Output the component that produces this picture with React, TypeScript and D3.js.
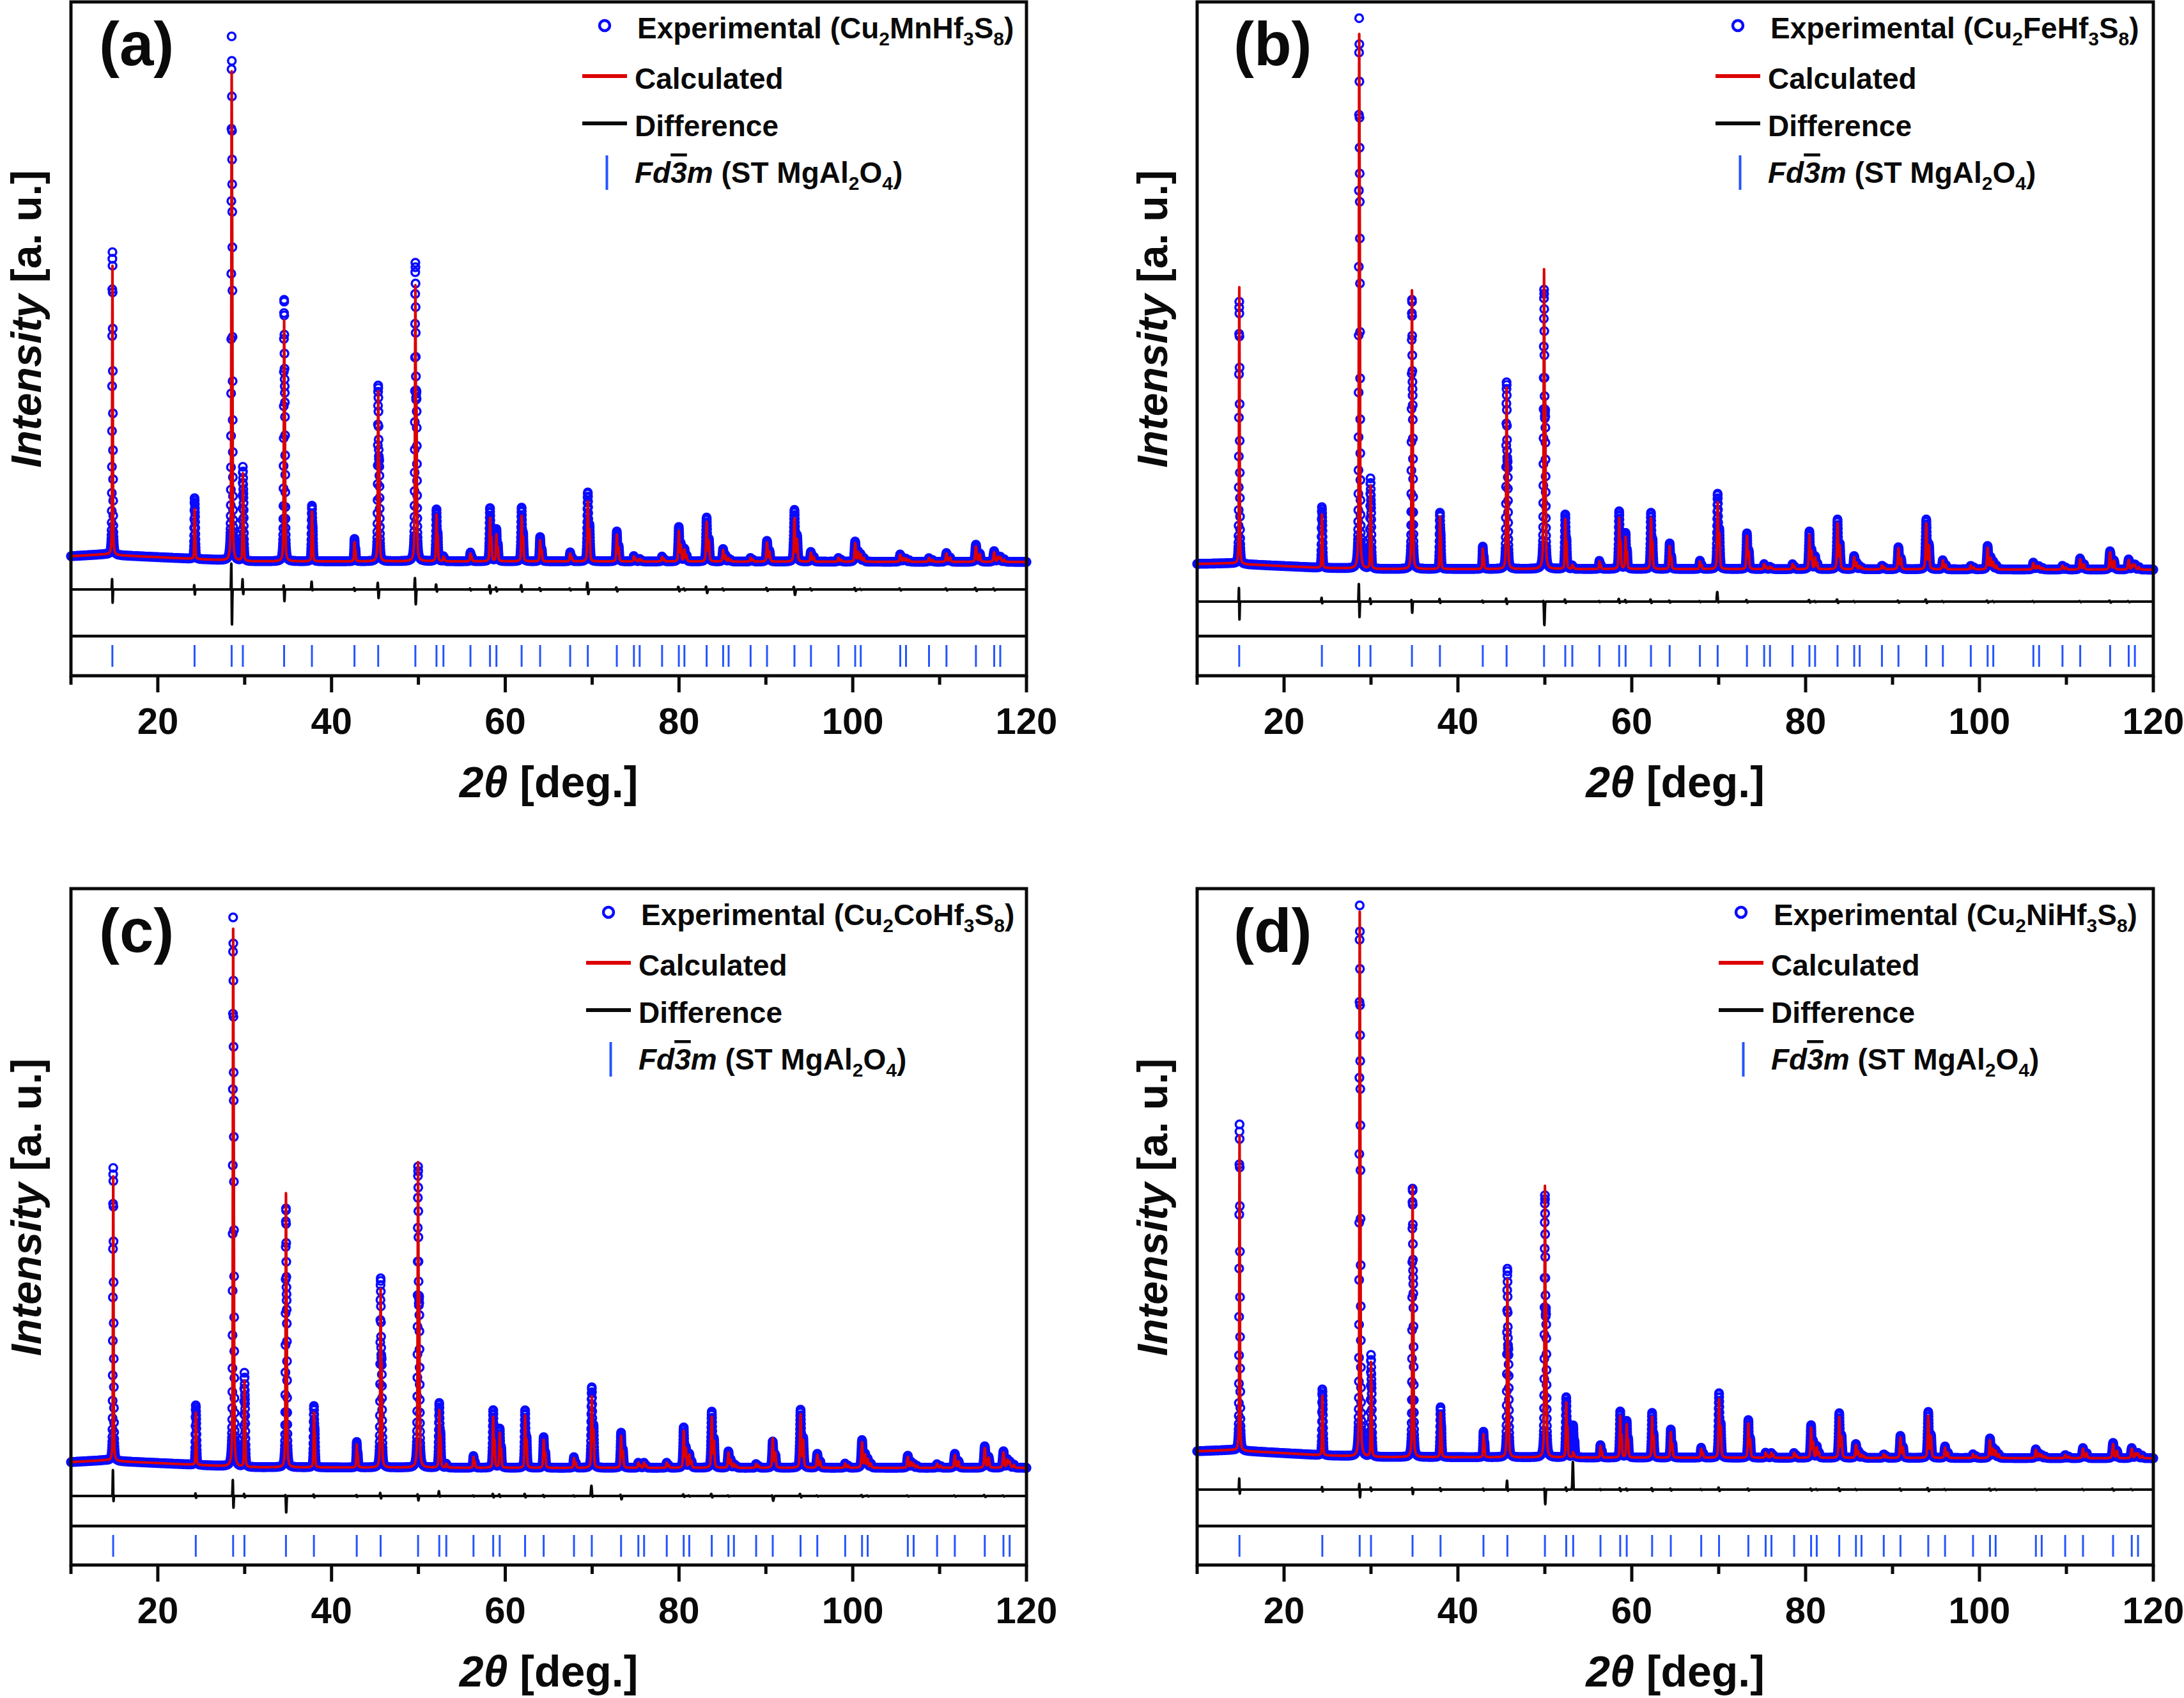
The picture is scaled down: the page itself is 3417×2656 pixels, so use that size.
import React, { useMemo } from 'react';
import * as d3 from 'd3';

// ---------------- data ----------------
const X_MAJOR = [20, 40, 60, 80, 100, 120];
const X_MINOR = [10, 30, 50, 70, 90, 110];
const BG_X = [10, 14, 16, 24, 30, 60, 120];

const PANEL_TAGS = ['(a)', '(b)', '(c)', '(d)'];
const METALS = ['Mn', 'Fe', 'Co', 'Ni'];

// Bragg reflection positions (2θ, deg) shown as tick marks
const ticksA = [14.77, 24.23, 28.5, 29.79, 34.54, 37.74, 42.64, 45.37, 49.65, 52.08, 52.88, 55.99, 58.24, 58.98, 61.88, 64.01, 67.47, 69.5, 72.84, 74.81, 75.47, 78.05, 79.98, 80.62, 83.18, 85.08, 85.71, 88.24, 90.13, 93.29, 95.19, 98.36, 100.28, 100.92, 105.47, 106.13, 108.78, 110.79, 114.18, 116.28, 116.98];
const ticksB = [14.84, 24.35, 28.64, 29.94, 34.71, 37.93, 42.86, 45.6, 49.91, 52.35, 53.16, 56.28, 58.55, 59.29, 62.21, 64.36, 67.84, 69.88, 73.25, 75.23, 75.9, 78.5, 80.44, 81.09, 83.67, 85.59, 86.22, 88.78, 90.68, 93.88, 95.79, 99.0, 100.94, 101.59, 106.2, 106.86, 109.55, 111.59, 115.03, 117.17, 117.88];
const ticksC = [14.86, 24.37, 28.67, 29.97, 34.75, 37.97, 42.9, 45.65, 49.96, 52.4, 53.21, 56.34, 58.61, 59.36, 62.28, 64.42, 67.91, 69.96, 73.33, 75.32, 75.98, 78.59, 80.54, 81.18, 83.77, 85.69, 86.32, 88.88, 90.79, 93.99, 95.92, 99.13, 101.07, 101.72, 106.34, 107.01, 109.71, 111.75, 115.2, 117.35, 118.06];
const ticksD = [14.87, 24.4, 28.7, 30.0, 34.78, 38.0, 42.94, 45.69, 50.01, 52.46, 53.26, 56.4, 58.67, 59.42, 62.34, 64.49, 67.99, 70.04, 73.41, 75.4, 76.07, 78.68, 80.63, 81.28, 83.87, 85.79, 86.43, 88.99, 90.91, 94.11, 96.04, 99.26, 101.21, 101.86, 106.49, 107.16, 109.86, 111.91, 115.37, 117.52, 118.24];

// peak heights above background (arbitrary units), experimental and calculated
const expA = [463, 95, 820, 147, 409, 87, 35, 275, 467, 81, 8, 14, 83, 50, 84, 38, 14, 108, 47, 9, 4, 8, 54, 20, 69, 20, 5, 6, 33, 81, 16, 6, 32, 12, 12, 5, 6, 14, 27, 17, 8];
const calcA = [442, 77, 765, 137, 377, 78, 30, 266, 432, 73, 7, 12, 68, 42, 71, 33, 12, 94, 42, 8, 4, 7, 48, 18, 62, 18, 5, 6, 30, 68, 14, 6, 29, 11, 11, 5, 6, 13, 24, 15, 7];
const expB = [401, 95, 861, 141, 421, 88, 35, 292, 437, 85, 6, 13, 90, 56, 88, 40, 13, 118, 56, 8, 4, 8, 59, 20, 78, 21, 5, 6, 35, 78, 15, 6, 37, 12, 11, 5, 6, 18, 29, 16, 8];
const calcB = [423, 83, 836, 130, 436, 82, 32, 284, 469, 78, 6, 12, 80, 50, 80, 36, 12, 105, 52, 8, 4, 8, 54, 18, 72, 19, 5, 6, 33, 72, 14, 6, 34, 11, 10, 5, 6, 16, 27, 15, 7];
const expC = [448, 93, 859, 147, 405, 96, 40, 296, 471, 101, 6, 19, 90, 61, 90, 48, 17, 126, 55, 8, 8, 8, 63, 22, 88, 26, 6, 6, 42, 91, 22, 7, 44, 14, 19, 6, 6, 22, 34, 26, 10];
const calcC = [435, 81, 841, 135, 429, 86, 36, 280, 478, 90, 6, 17, 80, 55, 82, 44, 15, 112, 50, 8, 8, 8, 58, 20, 80, 24, 6, 6, 46, 84, 20, 7, 40, 13, 17, 6, 6, 20, 31, 24, 9];
const expD = [499, 103, 862, 159, 420, 78, 40, 295, 410, 94, 50, 20, 72, 57, 70, 44, 16, 101, 59, 8, 8, 8, 51, 18, 70, 22, 5, 6, 35, 72, 18, 6, 31, 12, 14, 5, 5, 16, 24, 16, 8];
const calcD = [482, 92, 852, 148, 424, 70, 36, 279, 425, 86, 8, 18, 65, 52, 64, 40, 14, 92, 54, 8, 8, 8, 47, 16, 64, 20, 5, 6, 32, 66, 16, 6, 28, 11, 13, 5, 5, 15, 22, 15, 7];

// residual (difference) excursions above / below the difference baseline
const diffUpA = [22, 9, 55, 19, 10, 13, 3, 14, 24, 9, 0, 2, 8, 4, 8, 3, 2, 13, 4, 0, 0, 0, 5, 2, 6, 2, 0, 0, 3, 6, 2, 0, 3, 1, 2, 0, 0, 2, 3, 2, 0];
const diffDnA = [26, 10, 68, 11, 21, 3, 3, 17, 29, 5, 0, 2, 8, 4, 5, 3, 2, 10, 4, 0, 0, 0, 4, 2, 7, 2, 0, 0, 3, 10, 2, 0, 3, 1, 2, 0, 0, 2, 3, 2, 0];
const diffUpB = [29, 7, 35, 6, 5, 5, 2, 6, 4, 4, 0, 1, 5, 3, 4, 2, 1, 16, 3, 0, 0, 0, 3, 1, 4, 1, 0, 0, 2, 4, 1, 0, 2, 1, 1, 0, 0, 1, 2, 1, 0];
const diffDnB = [35, 4, 32, 5, 19, 3, 2, 5, 38, 3, 0, 1, 3, 2, 3, 2, 1, 3, 2, 0, 0, 0, 2, 1, 3, 1, 0, 0, 2, 3, 1, 0, 2, 1, 1, 0, 0, 1, 2, 1, 0];
const diffUpC = [45, 5, 31, 4, 4, 3, 2, 6, 4, 8, 0, 1, 4, 3, 4, 2, 1, 17, 3, 0, 0, 0, 3, 1, 4, 1, 0, 0, 2, 4, 1, 0, 2, 1, 1, 0, 0, 1, 2, 1, 0];
const diffDnC = [15, 4, 25, 3, 27, 3, 2, 5, 8, 2, 0, 1, 3, 2, 3, 2, 1, 3, 6, 0, 0, 0, 2, 1, 3, 1, 0, 0, 8, 3, 1, 0, 2, 1, 1, 0, 0, 1, 2, 1, 0];
const diffUpD = [20, 5, 12, 4, 4, 3, 2, 15, 4, 4, 44, 1, 3, 2, 3, 2, 1, 4, 2, 0, 0, 0, 2, 1, 3, 1, 0, 0, 2, 3, 1, 0, 2, 1, 1, 0, 0, 1, 2, 1, 0];
const diffDnD = [10, 4, 15, 3, 8, 3, 2, 4, 24, 3, 2, 1, 3, 2, 3, 2, 1, 3, 2, 0, 0, 0, 2, 1, 3, 1, 0, 0, 2, 3, 1, 0, 2, 1, 1, 0, 0, 1, 2, 1, 0];

// background levels at BG_X and difference-curve baselines
const bgA = [125, 128, 126, 121, 117, 117, 116];
const bgB = [113, 114, 112, 107, 105, 105, 104];
const bgC = [100, 103, 101, 96, 92, 91, 91];
const bgD = [117, 119, 117, 111, 108, 107, 106];
const diffBase = [73, 54, 47, 57];

// ---------------- layout / style ----------------
const W = 3417;
const H = 2656;
const FONT = "'Liberation Sans', Arial, Helvetica, sans-serif";
const BLUE = '#0a0aff';
const TICK_BLUE = '#2454ff';
const RED = '#dc0000';
const INK = '#0a0a0a';

const COLS = [
  { x0: 111, x1: 1606 },
  { x0: 1873, x1: 3369 },
];
const ROWS = [
  { top: 3, sep: 995, bot: 1057 },
  { top: 1390, sep: 2387, bot: 2448 },
];
const LEGEND_DX = [835, 846, 841, 851];

const STEP = 0.01;
const N = Math.round((120 - 10) / STEP) + 1;
const XS = d3.range(N).map((i) => 10 + i * STEP);

function pv(dx: number, w: number) {
  const t = (dx * dx) / (w * w);
  return 0.5 * Math.exp(-4 * Math.LN2 * t) + 0.5 / (1 + 4 * t);
}
function fwhm(p: number) {
  return 0.07 + 0.0011 * (p - 10);
}
function ka2Shift(p: number) {
  const th = ((p / 2) * Math.PI) / 180;
  return (2 * Math.tan(th) * 0.00248 * 180) / Math.PI;
}
function addPeaks(arr: Float64Array, pos: number[], hts: number[]) {
  for (let k = 0; k < pos.length; k++) {
    const p = pos[k];
    const h = hts[k];
    if (!h) continue;
    const w = fwhm(p);
    const d2 = ka2Shift(p);
    const norm = 1 + 0.5 * pv(d2, w);
    const i0 = Math.max(0, Math.floor((p - 3 - 10) / STEP));
    const i1 = Math.min(N - 1, Math.ceil((p + 3 + d2 - 10) / STEP));
    for (let i = i0; i <= i1; i++) {
      const dx = XS[i] - p;
      arr[i] += (h * (pv(dx, w) + 0.5 * pv(dx - d2, w))) / norm;
    }
  }
}
function addDiff(arr: Float64Array, pos: number[], up: number[], dn: number[]) {
  for (let k = 0; k < pos.length; k++) {
    const p = pos[k];
    const s = fwhm(p) * 0.55;
    const d = fwhm(p) * 0.3;
    const i0 = Math.max(0, Math.floor((p - 1 - 10) / STEP));
    const i1 = Math.min(N - 1, Math.ceil((p + 1 - 10) / STEP));
    for (let i = i0; i <= i1; i++) {
      const a = (XS[i] - p + d) / s;
      const b = (XS[i] - p - d) / s;
      arr[i] += up[k] * Math.exp(-a * a) - dn[k] * Math.exp(-b * b);
    }
  }
}

const PANELS = [
  { ticks: ticksA, exp: expA, calc: calcA, up: diffUpA, dn: diffDnA, bg: bgA },
  { ticks: ticksB, exp: expB, calc: calcB, up: diffUpB, dn: diffDnB, bg: bgB },
  { ticks: ticksC, exp: expC, calc: calcC, up: diffUpC, dn: diffDnC, bg: bgC },
  { ticks: ticksD, exp: expD, calc: calcD, up: diffUpD, dn: diffDnD, bg: bgD },
];

function Panel({ idx }: { idx: number }) {
  const col = COLS[idx % 2];
  const row = ROWS[Math.floor(idx / 2)];
  const data = PANELS[idx];
  const { x0, x1 } = col;
  const { top, sep, bot } = row;

  const x = d3.scaleLinear().domain([10, 120]).range([x0, x1]);
  const y = d3.scaleLinear().domain([0, sep - top]).range([sep, top]);

  const paths = useMemo(() => {
    const bgScale = d3.scaleLinear().domain(BG_X).range(data.bg);
    const e = new Float64Array(N);
    const c = new Float64Array(N);
    const df = new Float64Array(N);
    for (let i = 0; i < N; i++) {
      const b = bgScale(XS[i]);
      e[i] = b;
      c[i] = b;
      df[i] = diffBase[idx];
    }
    addPeaks(e, data.ticks, data.exp);
    addPeaks(c, data.ticks, data.calc);
    addDiff(df, data.ticks, data.up, data.dn);

    const r = 6;
    const parts: string[] = [];
    let lx = -1e9;
    let ly = -1e9;
    for (let i = 0; i < N; i++) {
      const px = x(XS[i]);
      const py = y(e[i]);
      if (Math.abs(px - lx) < 0.8 && Math.abs(py - ly) < 0.8 && i !== N - 1) continue;
      lx = px;
      ly = py;
      parts.push(
        `M${(px - r).toFixed(2)},${py.toFixed(2)}a${r},${r} 0 1,0 ${2 * r},0a${r},${r} 0 1,0 ${-2 * r},0`
      );
    }
    const line = d3
      .line<number>()
      .x((_, i) => x(XS[i]))
      .y((v) => y(v));
    return {
      circles: parts.join(''),
      calc: line(Array.from(c)) || '',
      diff: line(Array.from(df)) || '',
    };
  }, [idx]);

  const lx = x0 + LEGEND_DX[idx];
  const ty = top;
  const midX = (x0 + x1) / 2;
  const subDy = 11;

  return (
    <g>
      {/* data */}
      <path d={paths.circles} fill="none" stroke={BLUE} strokeWidth={3.4} />
      <path d={paths.calc} fill="none" stroke={RED} strokeWidth={4} strokeLinejoin="round" />
      <path d={paths.diff} fill="none" stroke={INK} strokeWidth={4} strokeLinejoin="round" />

      {/* Bragg ticks */}
      {data.ticks.map((t, i) => (
        <line key={i} x1={x(t)} x2={x(t)} y1={sep + 14} y2={sep + 48} stroke={TICK_BLUE} strokeWidth={3} />
      ))}

      {/* frame */}
      <rect x={x0} y={top} width={x1 - x0} height={bot - top} fill="none" stroke={INK} strokeWidth={5} />
      <line x1={x0} x2={x1} y1={sep} y2={sep} stroke={INK} strokeWidth={4.5} />

      {/* x axis ticks */}
      {X_MAJOR.map((t) => (
        <line key={'M' + t} x1={x(t)} x2={x(t)} y1={bot} y2={bot + 26} stroke={INK} strokeWidth={5} />
      ))}
      {X_MINOR.map((t) => (
        <line key={'m' + t} x1={x(t)} x2={x(t)} y1={bot} y2={bot + 14} stroke={INK} strokeWidth={5} />
      ))}
      {X_MAJOR.map((t) => (
        <text
          key={'L' + t}
          x={x(t)}
          y={bot + 91}
          textAnchor="middle"
          fontFamily={FONT}
          fontWeight="bold"
          fontSize={58}
          fill={INK}
        >
          {t}
        </text>
      ))}

      {/* axis titles */}
      <text x={midX} y={bot + 190} textAnchor="middle" fontFamily={FONT} fontWeight="bold" fontSize={68} fill={INK}>
        <tspan fontStyle="italic">2θ</tspan>
        {' [deg.]'}
      </text>
      <text
        transform={`translate(${x0 - 47},${(top + sep) / 2}) rotate(-90)`}
        textAnchor="middle"
        fontFamily={FONT}
        fontWeight="bold"
        fontSize={66}
        fill={INK}
      >
        <tspan fontStyle="italic">Intensity</tspan>
        {' [a. u.]'}
      </text>

      {/* panel tag */}
      <text x={idx % 2 === 0 ? x0 + 44 : x0 + 57} y={top + 99} fontFamily={FONT} fontWeight="bold" fontSize={96} fill={INK}>
        {PANEL_TAGS[idx]}
      </text>

      {/* legend */}
      <g fontFamily={FONT} fontWeight="bold" fontSize={46} fill={INK}>
        <circle cx={lx} cy={ty + 37} r={8} fill="none" stroke={BLUE} strokeWidth={4.5} />
        <text x={lx + 51} y={ty + 57}>
          {'Experimental (Cu'}
          <tspan fontSize={30} dy={subDy}>2</tspan>
          <tspan dy={-subDy}>{METALS[idx] + 'Hf'}</tspan>
          <tspan fontSize={30} dy={subDy}>3</tspan>
          <tspan dy={-subDy}>S</tspan>
          <tspan fontSize={30} dy={subDy}>8</tspan>
          <tspan dy={-subDy}>)</tspan>
        </text>

        <line x1={lx - 35} x2={lx + 35} y1={ty + 116} y2={ty + 116} stroke={RED} strokeWidth={6} />
        <text x={lx + 47} y={ty + 136}>Calculated</text>

        <line x1={lx - 35} x2={lx + 35} y1={ty + 190} y2={ty + 190} stroke={INK} strokeWidth={6} />
        <text x={lx + 47} y={ty + 210}>Difference</text>

        <line x1={lx + 3.5} x2={lx + 3.5} y1={ty + 240} y2={ty + 294} stroke={TICK_BLUE} strokeWidth={4} />
        <text x={lx + 47} y={ty + 283}>
          <tspan fontStyle="italic">Fd</tspan>
          <tspan fontStyle="italic" style={{ textDecoration: 'overline' }}>3</tspan>
          <tspan fontStyle="italic">m</tspan>
          {' (ST MgAl'}
          <tspan fontSize={30} dy={subDy}>2</tspan>
          <tspan dy={-subDy}>O</tspan>
          <tspan fontSize={30} dy={subDy}>4</tspan>
          <tspan dy={-subDy}>)</tspan>
        </text>
      </g>
    </g>
  );
}

export default function App() {
  return (
    <svg
      width={W}
      height={H}
      viewBox={`0 0 ${W} ${H}`}
      style={{ position: 'absolute', left: 0, top: 0, background: '#fff', display: 'block' }}
    >
      <rect x={0} y={0} width={W} height={H} fill="#fff" />
      {[0, 1, 2, 3].map((i) => (
        <Panel key={i} idx={i} />
      ))}
    </svg>
  );
}
